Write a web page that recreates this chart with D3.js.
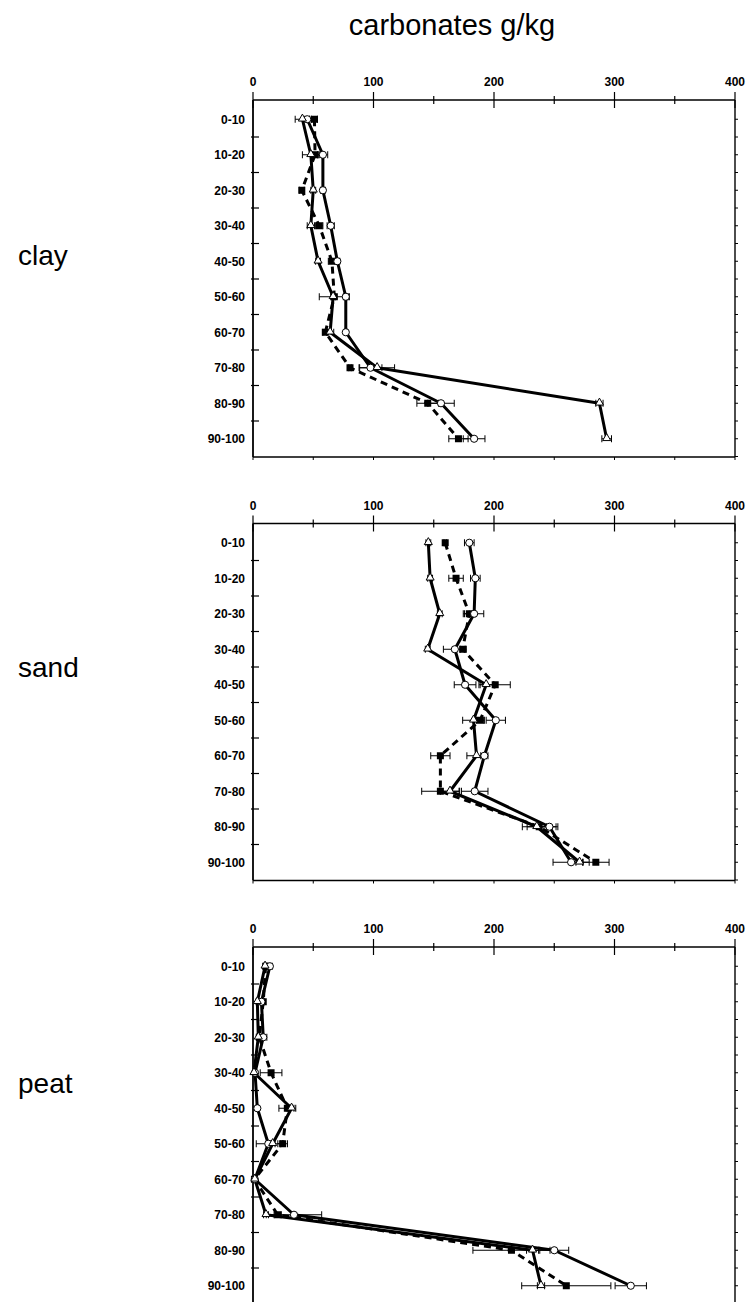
<!DOCTYPE html>
<html>
<head>
<meta charset="utf-8">
<script src="https://cdn.jsdelivr.net/npm/d3@7"></script>
<style>
  html, body { margin: 0; padding: 0; background: #fff; }
  svg { display: block; font-family: "Liberation Sans", Arial, sans-serif; }
</style>
</head>
<body>
<svg id="chart" width="751" height="1302"></svg>
<script>
// Depth classes (cm)
const depths = ["0-10","10-20","20-30","30-40","40-50","50-60","60-70","70-80","80-90","90-100"];
const xTicks = [0, 100, 200, 300, 400];
const soils = ["clay", "sand", "peat"];

// Carbonates (g/kg) per depth: open circles, open triangles, filled squares (dashed)
const clayCircle   = [45, 58, 58, 64.5, 70, 77, 77, 97.5, 156, 183.5];
const clayCircleE  = [2, 4, 2, 3, 2, 2, 1, 9.5, 11, 9];
const clayTriangle = [41, 48, 50, 48, 54, 66.5, 64, 103, 287.5, 293.5];
const clayTriangleE= [6, 7, 2, 3, 2, 2, 3, 14.5, 3, 4];
const claySquare   = [51, 51.5, 40.5, 55, 65.5, 67.5, 60, 80.5, 145, 170.5];
const claySquareE  = [2.5, 2, 2, 3, 3, 12.5, 2, 1, 9, 8];

const sandCircle   = [179.5, 184.5, 183.5, 167.5, 176, 201.5, 192, 184, 246, 264];
const sandCircleE  = [4, 4, 8, 9.5, 9, 8, 3, 11, 7, 15];
const sandTriangle = [145.5, 147, 155, 145, 193.5, 183, 185.5, 163.5, 235.5, 271];
const sandTriangleE= [2, 2, 2, 2, 6, 9, 8, 8, 8, 3];
const sandSquare   = [159.5, 168.5, 179.5, 174, 201, 188.5, 155.5, 155.5, 237.5, 284.5];
const sandSquareE  = [1, 6, 5, 2, 12.5, 3, 8, 15.5, 14, 11];

const peatCircle   = [14, 7, 8.5, 1.7, 3.6, 12.7, 1.5, 34, 250, 313.5];
const peatCircleE  = [2, 1, 3, 1, 1, 10, 0.5, 23, 12, 13];
const peatTriangle = [10, 3.6, 4.4, 0.8, 32, 16.3, 1.5, 10.8, 232, 239];
const peatTriangleE= [1, 1, 1, 0.5, 2, 2, 0.5, 2, 5, 3];
const peatSquare   = [10.5, 8.5, 5.2, 15, 28.5, 24.6, 1.2, 20.5, 214.5, 260];
const peatSquareE  = [1, 1, 2, 9, 7, 4, 0.5, 3, 32, 37];

const panelData = {
  clay: { circle: [clayCircle, clayCircleE], triangle: [clayTriangle, clayTriangleE], square: [claySquare, claySquareE] },
  sand: { circle: [sandCircle, sandCircleE], triangle: [sandTriangle, sandTriangleE], square: [sandSquare, sandSquareE] },
  peat: { circle: [peatCircle, peatCircleE], triangle: [peatTriangle, peatTriangleE], square: [peatSquare, peatSquareE] }
};

const svg = d3.select("#chart");

// Layout
const left = 253, right = 735;
const panelTops = [100, 523.5, 947];
const panelH = 357;
const soilLabelY = [265, 677, 1093];

const x = d3.scaleLinear().domain([0, 400]).range([left, right]);

// Title
svg.append("text")
  .attr("x", 452).attr("y", 35)
  .attr("text-anchor", "middle")
  .attr("font-size", 29)
  .attr("fill", "#000")
  .text("carbonates g/kg");

const lineGen = (y) => d3.line()
  .x(d => x(d.v))
  .y(d => y(d.cat) + y.bandwidth() / 2);

soils.forEach((soil, pi) => {
  const top = panelTops[pi];
  const g = svg.append("g");
  const y = d3.scaleBand().domain(depths).range([top + 1.5, top + panelH - 0.5]);
  const cy = c => y(c) + y.bandwidth() / 2;

  // soil label
  svg.append("text")
    .attr("x", 18).attr("y", soilLabelY[pi])
    .attr("font-size", 28)
    .text(soil);

  // frame
  g.append("line").attr("x1", left).attr("x2", right).attr("y1", top).attr("y2", top)
    .attr("stroke", "#000").attr("stroke-width", 1.6);
  g.append("line").attr("x1", left).attr("x2", left).attr("y1", top).attr("y2", top + panelH)
    .attr("stroke", "#000").attr("stroke-width", 1.8);
  g.append("line").attr("x1", right).attr("x2", right).attr("y1", top).attr("y2", top + panelH)
    .attr("stroke", "#000").attr("stroke-width", 1.4);
  g.append("line").attr("x1", left).attr("x2", right).attr("y1", top + panelH).attr("y2", top + panelH)
    .attr("stroke", "#000").attr("stroke-width", 1.4);

  // x ticks, major and minor, crossing the top axis
  d3.range(0, 401, 50).forEach(v => {
    const major = v % 100 === 0;
    const h = major ? 8 : 4;
    g.append("line").attr("x1", x(v)).attr("x2", x(v))
      .attr("y1", top - h).attr("y2", top + h)
      .attr("stroke", "#000").attr("stroke-width", 1.2);
    g.append("line").attr("x1", x(v)).attr("x2", x(v))
      .attr("y1", top + panelH).attr("y2", top + panelH + 3)
      .attr("stroke", "#000").attr("stroke-width", 1);
  });
  g.selectAll("text.xt").data(xTicks).enter().append("text")
    .attr("class", "xt")
    .attr("x", d => x(d)).attr("y", top - 14)
    .attr("text-anchor", "middle")
    .attr("font-size", 12).attr("font-weight", "bold")
    .text(d => d);

  // y ticks at band boundaries
  depths.slice(1).forEach(c => {
    g.append("line").attr("x1", left - 2).attr("x2", left + 6)
      .attr("y1", y(c)).attr("y2", y(c))
      .attr("stroke", "#000").attr("stroke-width", 1.2);
  });
  // right side small ticks at half bands
  d3.range(0, depths.length * 2).forEach(i => {
    const yy = y.range()[0] + (i + 1) * y.bandwidth() / 2;
    g.append("line").attr("x1", right).attr("x2", right + 3)
      .attr("y1", yy).attr("y2", yy)
      .attr("stroke", "#000").attr("stroke-width", 1);
  });
  g.selectAll("text.yt").data(depths).enter().append("text")
    .attr("class", "yt")
    .attr("x", 245).attr("y", d => cy(d) + 4.5)
    .attr("text-anchor", "end")
    .attr("font-size", 12).attr("font-weight", "bold")
    .text(d => d);

  const pd = panelData[soil];
  const series = [
    { key: "square", dash: "7,5" },
    { key: "circle", dash: null },
    { key: "triangle", dash: null }
  ];

  // lines
  series.forEach(s => {
    const vals = pd[s.key][0].map((v, i) => ({ cat: depths[i], v }));
    g.append("path").datum(vals)
      .attr("d", lineGen(y))
      .attr("fill", "none")
      .attr("stroke", "#000")
      .attr("stroke-width", 3)
      .attr("stroke-linejoin", "round")
      .attr("stroke-dasharray", s.dash);
  });

  // error bars
  series.forEach(s => {
    const [vals, errs] = pd[s.key];
    vals.forEach((v, i) => {
      const e = errs[i];
      if (e < 0.8) return;
      const yy = cy(depths[i]);
      const eg = g.append("g").attr("stroke", "#000").attr("stroke-width", 1);
      eg.append("line").attr("x1", x(v - e)).attr("x2", x(v + e)).attr("y1", yy).attr("y2", yy);
      eg.append("line").attr("x1", x(v - e)).attr("x2", x(v - e)).attr("y1", yy - 3.5).attr("y2", yy + 3.5);
      eg.append("line").attr("x1", x(v + e)).attr("x2", x(v + e)).attr("y1", yy - 3.5).attr("y2", yy + 3.5);
    });
  });

  // markers
  const sq = pd.square[0];
  g.selectAll("rect.sq").data(sq).enter().append("rect")
    .attr("x", d => x(d) - 3.5)
    .attr("y", (d, i) => cy(depths[i]) - 3.5)
    .attr("width", 7).attr("height", 7)
    .attr("fill", "#000");
  const ci = pd.circle[0];
  g.selectAll("circle.ci").data(ci).enter().append("circle")
    .attr("cx", d => x(d))
    .attr("cy", (d, i) => cy(depths[i]))
    .attr("r", 3.6)
    .attr("fill", "#fff").attr("stroke", "#000").attr("stroke-width", 1);
  const tr = pd.triangle[0];
  const triPath = d3.symbol().type(d3.symbolTriangle).size(28);
  g.selectAll("path.tr").data(tr).enter().append("path")
    .attr("d", triPath)
    .attr("transform", (d, i) => `translate(${x(d)},${cy(depths[i]) - 0.5})`)
    .attr("fill", "#fff").attr("stroke", "#000").attr("stroke-width", 1);
});
</script>
</body>
</html>
